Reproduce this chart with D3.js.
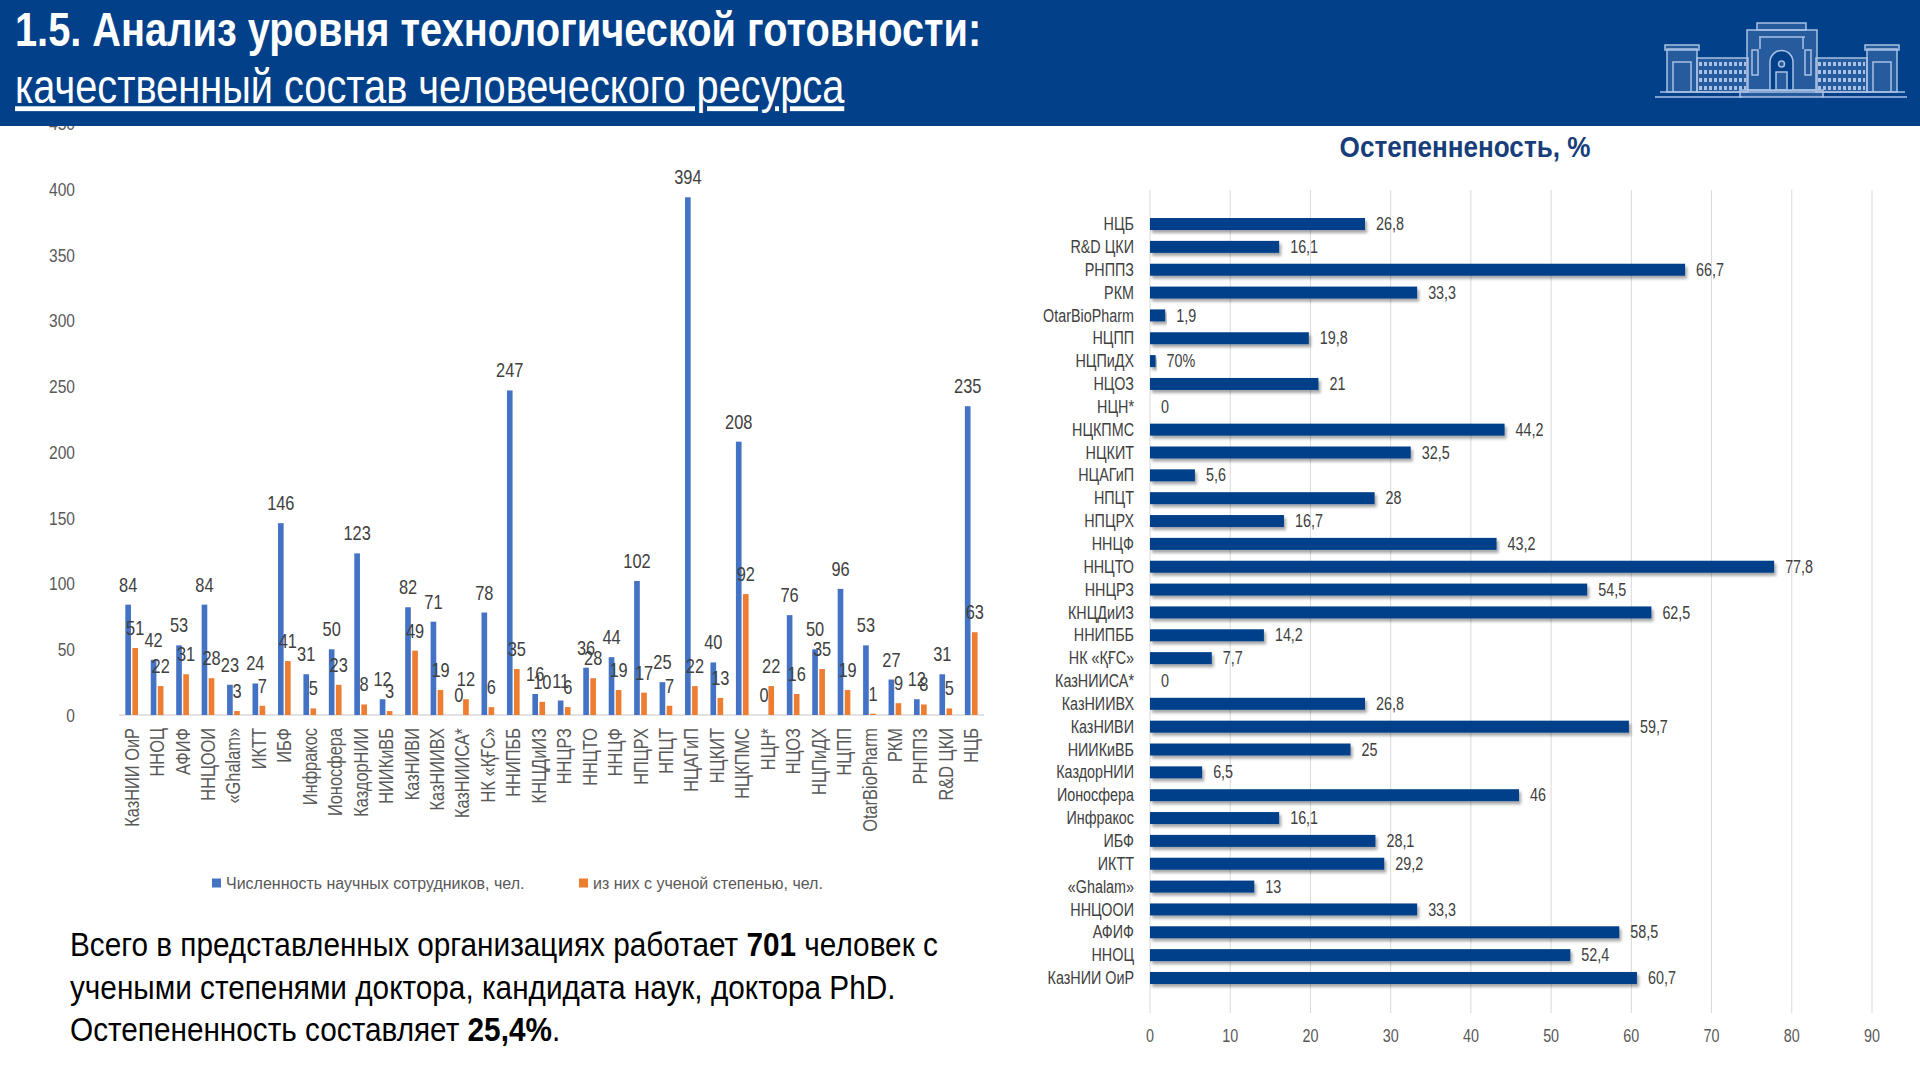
<!DOCTYPE html>
<html>
<head>
<meta charset="utf-8">
<script src="https://cdn.jsdelivr.net/npm/d3@7"></script>
<style>
  body { margin: 0; background: #fff; }
  svg { display: block; }
  text { font-family: "Liberation Sans", Arial, sans-serif; }
</style>
</head>
<body>
<script>
// Left chart: staff per organisation
var orgs = ['КазНИИ ОиР', 'ННОЦ', 'АФИФ', 'ННЦООИ', '«Ghalam»', 'ИКТТ', 'ИБФ', 'Инфракос', 'Ионосфера',
  'КаздорНИИ', 'НИИКиВБ', 'КазНИВИ', 'КазНИИВХ', 'КазНИИСА*', 'НК «ҚҒС»', 'ННИПББ', 'КНЦДиИЗ', 'ННЦРЗ',
  'ННЦТО', 'ННЦФ', 'НПЦРХ', 'НПЦТ', 'НЦАГиП', 'НЦКИТ', 'НЦКПМС', 'НЦН*', 'НЦОЗ', 'НЦПиДХ', 'НЦПП',
  'OtarBioPharm', 'РКМ', 'РНППЗ', 'R&D ЦКИ', 'НЦБ'];
var staffTotal = [84, 42, 53, 84, 23, 24, 146, 31, 50, 123, 12, 82, 71, 0, 78, 247, 16, 11,
  36, 44, 102, 25, 394, 40, 208, 0, 76, 50, 96, 53, 27, 12, 31, 235];
var staffDegree = [51, 22, 31, 28, 3, 7, 41, 5, 23, 8, 3, 49, 19, 12, 6, 35, 10, 6,
  28, 19, 17, 7, 22, 13, 92, 22, 16, 35, 19, 1, 9, 8, 5, 63];
var seriesNames = ['Численность научных сотрудников, чел.', 'из них с ученой степенью, чел.'];
var seriesColors = ['#4472C4', '#ED7D31'];

// Right chart: share with degree, %
var pctOrgs = ['НЦБ', 'R&D ЦКИ', 'РНППЗ', 'РКМ', 'OtarBioPharm', 'НЦПП', 'НЦПиДХ', 'НЦОЗ', 'НЦН*',
  'НЦКПМС', 'НЦКИТ', 'НЦАГиП', 'НПЦТ', 'НПЦРХ', 'ННЦФ', 'ННЦТО', 'ННЦРЗ', 'КНЦДиИЗ', 'ННИПББ',
  'НК «ҚҒС»', 'КазНИИСА*', 'КазНИИВХ', 'КазНИВИ', 'НИИКиВБ', 'КаздорНИИ', 'Ионосфера', 'Инфракос',
  'ИБФ', 'ИКТТ', '«Ghalam»', 'ННЦООИ', 'АФИФ', 'ННОЦ', 'КазНИИ ОиР'];
var pctValues = [26.8, 16.1, 66.7, 33.3, 1.9, 19.8, 0.7, 21, 0, 44.2, 32.5, 5.6, 28, 16.7, 43.2, 77.8,
  54.5, 62.5, 14.2, 7.7, 0, 26.8, 59.7, 25, 6.5, 46, 16.1, 28.1, 29.2, 13, 33.3, 58.5, 52.4, 60.7];
var pctLabels = ['26,8', '16,1', '66,7', '33,3', '1,9', '19,8', '70%', '21', '0', '44,2', '32,5', '5,6',
  '28', '16,7', '43,2', '77,8', '54,5', '62,5', '14,2', '7,7', '0', '26,8', '59,7', '25', '6,5', '46',
  '16,1', '28,1', '29,2', '13', '33,3', '58,5', '52,4', '60,7'];
var pctTicks = [0, 10, 20, 30, 40, 50, 60, 70, 80, 90];

// Arial Narrow look: squeeze Liberation Sans horizontally
function narrow(sx) { return ' scale(' + (sx || 0.82) + ',1)'; }
function at(x, y, sx) { return 'translate(' + x + ',' + y + ')' + narrow(sx); }

var svg = d3.select('body').append('svg')
  .attr('width', 1920)
  .attr('height', 1080);

var defs = svg.append('defs');
var shadow = defs.append('filter').attr('id', 'shadow')
  .attr('x', '-5%').attr('y', '-50%').attr('width', '115%').attr('height', '250%');
shadow.append('feDropShadow')
  .attr('dx', 2).attr('dy', 3).attr('stdDeviation', 1.5)
  .attr('flood-color', '#000').attr('flood-opacity', 0.35);

// ---------- left chart ----------
var y = d3.scaleLinear().domain([0, 450]).range([715, 123.7]);
var x0 = d3.scaleBand().domain(orgs).range([119, 984]);
var x1 = d3.scaleBand().domain([0, 1]).range([-6.4, 6.3]).paddingInner(0.2);

var left = svg.append('g');

left.selectAll('.ytick')
  .data(y.ticks(9))
  .enter()
  .append('text')
  .attr('transform', function(d) { return at(75, y(d)); })
  .attr('dy', '0.35em')
  .attr('text-anchor', 'end')
  .attr('font-size', 19)
  .attr('fill', '#595959')
  .text(function(d) { return d; });

left.append('line')
  .attr('x1', x0.range()[0]).attr('x2', x0.range()[1])
  .attr('y1', y(0)).attr('y2', y(0))
  .attr('stroke', '#d9d9d9')
  .attr('stroke-width', 1.5);

var groups = left.selectAll('.org')
  .data(orgs)
  .enter()
  .append('g')
  .attr('transform', function(d) { return 'translate(' + (x0(d) + x0.bandwidth() / 2) + ',0)'; });

[staffTotal, staffDegree].forEach(function(series, s) {
  groups.append('rect')
    .attr('x', x1(s))
    .attr('width', x1.bandwidth())
    .attr('y', function(d, i) { return y(series[i]); })
    .attr('height', function(d, i) { return y(0) - y(series[i]); })
    .attr('fill', seriesColors[s]);

  groups.append('text')
    .attr('transform', function(d, i) { return at(x1(s) + x1.bandwidth() / 2, y(series[i]) - 13); })
    .attr('text-anchor', 'middle')
    .attr('font-size', 20)
    .attr('fill', '#404040')
    .text(function(d, i) { return series[i]; });
});

groups.append('text')
  .attr('transform', 'translate(0,728) rotate(-90)' + narrow())
  .attr('dy', '0.35em')
  .attr('text-anchor', 'end')
  .attr('font-size', 20)
  .attr('fill', '#595959')
  .text(function(d) { return d; });

// legend
var legendX = [212, 579];
var legend = left.selectAll('.legend')
  .data(seriesNames)
  .enter()
  .append('g')
  .attr('transform', function(d, i) { return 'translate(' + legendX[i] + ',883)'; });
legend.append('rect')
  .attr('x', 0).attr('y', -4.5)
  .attr('width', 9).attr('height', 9)
  .attr('fill', function(d, i) { return seriesColors[i]; });
legend.append('text')
  .attr('x', 14)
  .attr('dy', '0.35em')
  .attr('font-size', 16)
  .attr('fill', '#595959')
  .text(function(d) { return d; });

// summary text
var summary = [
  [['Всего в представленных организациях работает ', 400], ['701', 700], [' человек с', 400]],
  [['учеными степенями доктора, кандидата наук, доктора PhD.', 400]],
  [['Остепененность составляет ', 400], ['25,4%', 700], ['.', 400]]
];
summary.forEach(function(line, i) {
  var t = svg.append('text')
    .attr('transform', at(70, 956 + i * 42.5, 0.875))
    .attr('font-size', 34)
    .attr('fill', '#000');
  line.forEach(function(part) {
    t.append('tspan').attr('font-weight', part[1]).text(part[0]);
  });
});

// ---------- right chart ----------
var xr = d3.scaleLinear().domain([0, 90]).range([1150, 1872]);
var yr = d3.scaleBand().domain(pctOrgs).range([212.6, 989.4]);

var right = svg.append('g');

right.append('text')
  .attr('transform', at(1465, 157, 0.87))
  .attr('text-anchor', 'middle')
  .attr('font-size', 30)
  .attr('font-weight', 700)
  .attr('fill', '#173D7A')
  .text('Остепенненость, %');

right.selectAll('.grid')
  .data(pctTicks)
  .enter()
  .append('line')
  .attr('x1', function(d) { return xr(d); })
  .attr('x2', function(d) { return xr(d); })
  .attr('y1', 190)
  .attr('y2', 1013)
  .attr('stroke', '#d9d9d9')
  .attr('stroke-width', 1);

right.selectAll('.xtick')
  .data(pctTicks)
  .enter()
  .append('text')
  .attr('transform', function(d) { return at(xr(d), 1036); })
  .attr('dy', '0.35em')
  .attr('text-anchor', 'middle')
  .attr('font-size', 17.5)
  .attr('fill', '#595959')
  .text(function(d) { return d; });

var rows = right.selectAll('.row')
  .data(pctOrgs)
  .enter()
  .append('g')
  .attr('transform', function(d) { return 'translate(0,' + (yr(d) + yr.bandwidth() / 2) + ')'; });

rows.append('rect')
  .attr('x', xr(0))
  .attr('y', -6)
  .attr('height', 12)
  .attr('width', function(d, i) { return xr(pctValues[i]) - xr(0); })
  .attr('fill', '#02418A')
  .attr('filter', 'url(#shadow)');

rows.append('text')
  .attr('transform', at(1134, 0))
  .attr('dy', '0.35em')
  .attr('text-anchor', 'end')
  .attr('font-size', 17.5)
  .attr('fill', '#404040')
  .text(function(d) { return d; });

rows.append('text')
  .attr('transform', function(d, i) { return at(xr(pctValues[i]) + 11, 0); })
  .attr('dy', '0.35em')
  .attr('font-size', 17.5)
  .attr('fill', '#404040')
  .text(function(d, i) { return pctLabels[i]; });

// ---------- header (drawn last, covers the top tick) ----------
var header = svg.append('g');
header.append('rect')
  .attr('x', 0).attr('y', 0)
  .attr('width', 1920).attr('height', 126)
  .attr('fill', '#02418A');
header.append('text')
  .attr('transform', at(15, 46))
  .attr('font-size', 48.5)
  .attr('font-weight', 700)
  .attr('fill', '#fff')
  .text('1.5. Анализ уровня технологической готовности:');
header.append('text')
  .attr('transform', at(15, 103))
  .attr('font-size', 48.5)
  .attr('fill', '#fff')
  .attr('text-decoration', 'underline')
  .text('качественный состав человеческого ресурса');

// building logo
var logo = header.append('g')
  .attr('fill', 'rgba(169,193,228,0.22)')
  .attr('stroke', '#a9c1e4')
  .attr('stroke-width', 1.5);
var blocks = [
  [1757, 23, 49, 7], [1747, 30, 70, 60], [1740, 90, 83, 7],
  [1697, 58, 51, 34], [1816, 58, 51, 34],
  [1667, 49, 30, 43], [1867, 49, 30, 43],
  [1665, 45, 34, 5], [1865, 45, 34, 5]
];
logo.selectAll('.block')
  .data(blocks)
  .enter()
  .append('rect')
  .attr('x', function(d) { return d[0]; })
  .attr('y', function(d) { return d[1]; })
  .attr('width', function(d) { return d[2]; })
  .attr('height', function(d) { return d[3]; });
logo.append('path')
  .attr('fill', '#02418A')
  .attr('d', 'M1770,90 V62 A11.5,11.5 0 0 1 1793,62 V90 Z');
logo.append('rect').attr('x', 1776).attr('y', 72).attr('width', 11).attr('height', 18);
logo.append('circle').attr('cx', 1781.5).attr('cy', 64).attr('r', 3);
logo.append('path')
  .attr('fill', 'none')
  .attr('d', 'M1759,37 H1805 M1760,37 V49 M1803,37 V49 M1752,50 V75 H1758 V50 Z M1805,50 V75 H1811 V50 Z');
// wing window rows
var winRows = [64, 72, 80, 88];
winRows.forEach(function(wy) {
  logo.append('line')
    .attr('x1', 1699).attr('x2', 1746).attr('y1', wy).attr('y2', wy)
    .attr('stroke-width', 4)
    .attr('stroke-dasharray', '3,2');
  logo.append('line')
    .attr('x1', 1818).attr('x2', 1865).attr('y1', wy).attr('y2', wy)
    .attr('stroke-width', 4)
    .attr('stroke-dasharray', '3,2');
});
logo.append('path')
  .attr('fill', 'none')
  .attr('d', 'M1673,92 V62 H1691 V92 M1873,92 V62 H1891 V92 M1660,92 H1905 M1655,97 H1742 M1822,97 H1907');
</script>
</body>
</html>
